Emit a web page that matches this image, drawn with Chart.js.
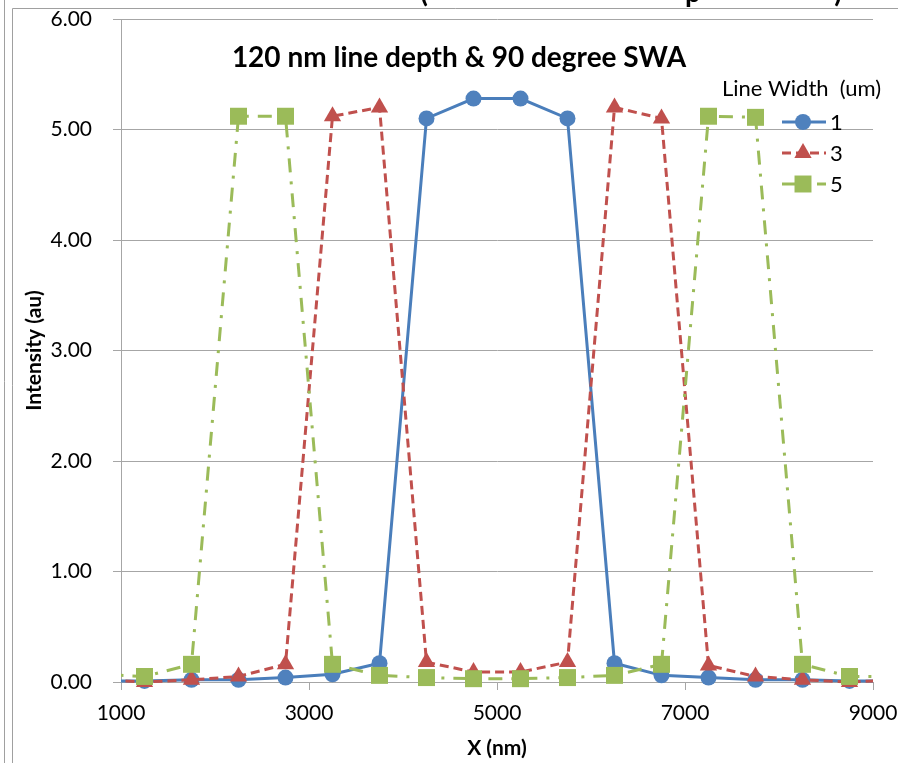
<!DOCTYPE html>
<html>
<head>
<meta charset="utf-8">
<script src="https://cdn.jsdelivr.net/npm/chart.js@4/dist/chart.umd.min.js"></script>
<style>
  html, body { margin: 0; padding: 0; background: #fff; }
  #wrap { width: 898px; height: 763px; position: relative; }
</style>
</head>
<body>
<div id="wrap"><canvas id="c" width="898" height="763"></canvas></div>
<script>
// ---- data ----
const xPositions = [750, 1250, 1750, 2250, 2750, 3250, 3750, 4250, 4750, 5250, 5750, 6250, 6750, 7250, 7750, 8250, 8750, 9250];
const seriesNames = ['1', '3', '5'];
const width1 = [0.01, 0.01, 0.02, 0.02, 0.04, 0.07, 0.17, 5.10, 5.28, 5.28, 5.10, 0.17, 0.06, 0.04, 0.02, 0.02, 0.01, 0.01];
const width3 = [0.02, 0.00, 0.02, 0.05, 0.16, 5.12, 5.20, 0.18, 0.09, 0.09, 0.18, 5.20, 5.10, 0.15, 0.05, 0.02, 0.00, 0.02];
const width5 = [0.07, 0.05, 0.16, 5.12, 5.12, 0.16, 0.06, 0.04, 0.03, 0.03, 0.04, 0.06, 0.16, 5.12, 5.11, 0.16, 0.05, 0.05];
const xTicks = [1000, 3000, 5000, 7000, 9000];
const yTicks = [0, 1, 2, 3, 4, 5, 6];
const chartTitle = '120 nm line depth & 90 degree SWA';
const legendTitle = 'Line Width  (um)';
const xTitle = 'X (nm)';
const yTitle = 'Intensity (au)';

const FONT = 'Lato, "Open Sans", sans-serif';
const GRID = '#a6a6a6';

function pts(vals) { return xPositions.map((x, i) => ({ x: x, y: vals[i] })); }

const styles = [
  { color: '#4a7ebb', fill: '#4f81bd', dash: [], point: 'circle', radius: 8, order: 2 },
  { color: '#c0504d', fill: '#c0504d', dash: [9, 5], point: 'triangle', radius: 10, order: 1 },
  { color: '#9bbb59', fill: '#9bbb59', dash: [14, 9, 3, 9], point: 'rect', radius: 12, order: 0 }
];
const values = [width1, width3, width5];

const datasets = values.map((v, i) => ({
  label: seriesNames[i],
  data: pts(v),
  borderColor: styles[i].color,
  backgroundColor: styles[i].fill,
  borderWidth: 3,
  borderDash: styles[i].dash,
  pointStyle: styles[i].point,
  pointRadius: styles[i].radius,
  pointBackgroundColor: styles[i].fill,
  pointBorderColor: styles[i].fill,
  pointBorderWidth: 0,
  tension: 0,
  order: styles[i].order,
  clip: { left: 0, right: 0, top: 20, bottom: 20 }
}));

const decor = {
  id: 'decor',
  beforeDraw(chart) {
    const ctx = chart.ctx;
    ctx.save();
    ctx.fillStyle = '#fff';
    ctx.fillRect(0, 0, chart.width, chart.height);
    // outer frame lines
    ctx.strokeStyle = '#a0a0a0';
    ctx.lineWidth = 1;
    ctx.beginPath();
    ctx.moveTo(4.5, 0); ctx.lineTo(4.5, chart.height);
    ctx.moveTo(12.5, 8.5); ctx.lineTo(12.5, chart.height);
    ctx.moveTo(12.5, 8.5); ctx.lineTo(chart.width, 8.5);
    ctx.stroke();
    // cut-off fragments of an upper title
    ctx.fillStyle = '#000';
    ctx.font = 'bold 28px ' + FONT;
    ctx.textBaseline = 'alphabetic';
    ctx.textAlign = 'center';
    ctx.fillText('(', 424, 2);
    ctx.fillText('p', 693, 2);
    ctx.fillText(')', 838, 2);
    ctx.restore();
  },
  afterDraw(chart) {
    const ctx = chart.ctx;
    ctx.save();
    // chart title inside plot
    ctx.fillStyle = '#000';
    ctx.font = 'bold 28px ' + FONT;
    ctx.textAlign = 'center';
    ctx.textBaseline = 'middle';
    ctx.fillText(chartTitle, 459, 58);
    // legend
    ctx.font = '22px ' + FONT;
    ctx.textAlign = 'left';
    ctx.fillText(legendTitle, 722, 89);
    const rows = [122, 153, 184];
    datasets.forEach((ds, i) => {
      const y = rows[i];
      ctx.save();
      ctx.strokeStyle = ds.borderColor;
      ctx.lineWidth = 3;
      ctx.setLineDash(ds.borderDash);
      ctx.beginPath();
      ctx.moveTo(782, y); ctx.lineTo(826, y);
      ctx.stroke();
      ctx.restore();
      ctx.save();
      ctx.fillStyle = ds.pointBackgroundColor;
      ctx.strokeStyle = ds.pointBackgroundColor;
      Chart.helpers.drawPoint(ctx, { pointStyle: ds.pointStyle, radius: ds.pointRadius, rotation: 0, borderWidth: 0 }, 803, y);
      ctx.restore();
      ctx.fillStyle = '#000';
      ctx.font = '22px ' + FONT;
      ctx.textBaseline = 'middle';
      ctx.fillText(ds.label, 830, y + 1);
    });
    ctx.restore();
  }
};

new Chart(document.getElementById('c'), {
  type: 'line',
  data: { datasets: datasets },
  options: {
    responsive: false,
    animation: false,
    devicePixelRatio: 1,
    layout: { padding: { left: 12, top: 19, right: 25, bottom: 0 } },
    plugins: { legend: { display: false }, tooltip: { enabled: false }, title: { display: false } },
    scales: {
      x: {
        type: 'linear',
        min: 1000, max: 9000,
        afterBuildTicks(scale) { scale.ticks = xTicks.map(v => ({ value: v })); },
        afterFit(scale) { scale.height = 81; scale.paddingLeft = 0; scale.paddingRight = 0; },
        grid: { drawOnChartArea: false, drawTicks: true, tickLength: 8, color: GRID, lineWidth: 1 },
        border: { display: true, color: GRID, width: 1 },
        ticks: { color: '#000', font: { family: FONT, size: 21 }, padding: 11, maxRotation: 0, autoSkip: false, callback: v => String(v) },
        title: { display: true, text: xTitle, color: '#000', font: { family: FONT, size: 21, weight: 'bold' }, padding: { top: 2, bottom: 2 } }
      },
      y: {
        type: 'linear',
        min: 0, max: 6,
        afterBuildTicks(scale) { scale.ticks = yTicks.map(v => ({ value: v })); },
        afterFit(scale) { scale.width = 109; scale.paddingTop = 0; scale.paddingBottom = 0; },
        grid: { drawOnChartArea: true, drawTicks: true, tickLength: 8, color: GRID, lineWidth: 1 },
        border: { display: true, color: GRID, width: 1 },
        ticks: { color: '#000', font: { family: FONT, size: 21 }, padding: 21, crossAlign: 'near', callback: v => Number(v).toFixed(2) },
        title: { display: true, text: yTitle, color: '#000', font: { family: FONT, size: 21, weight: 'bold' }, padding: { top: 10, bottom: 0 } }
      }
    }
  },
  plugins: [decor]
});
</script>
</body>
</html>
